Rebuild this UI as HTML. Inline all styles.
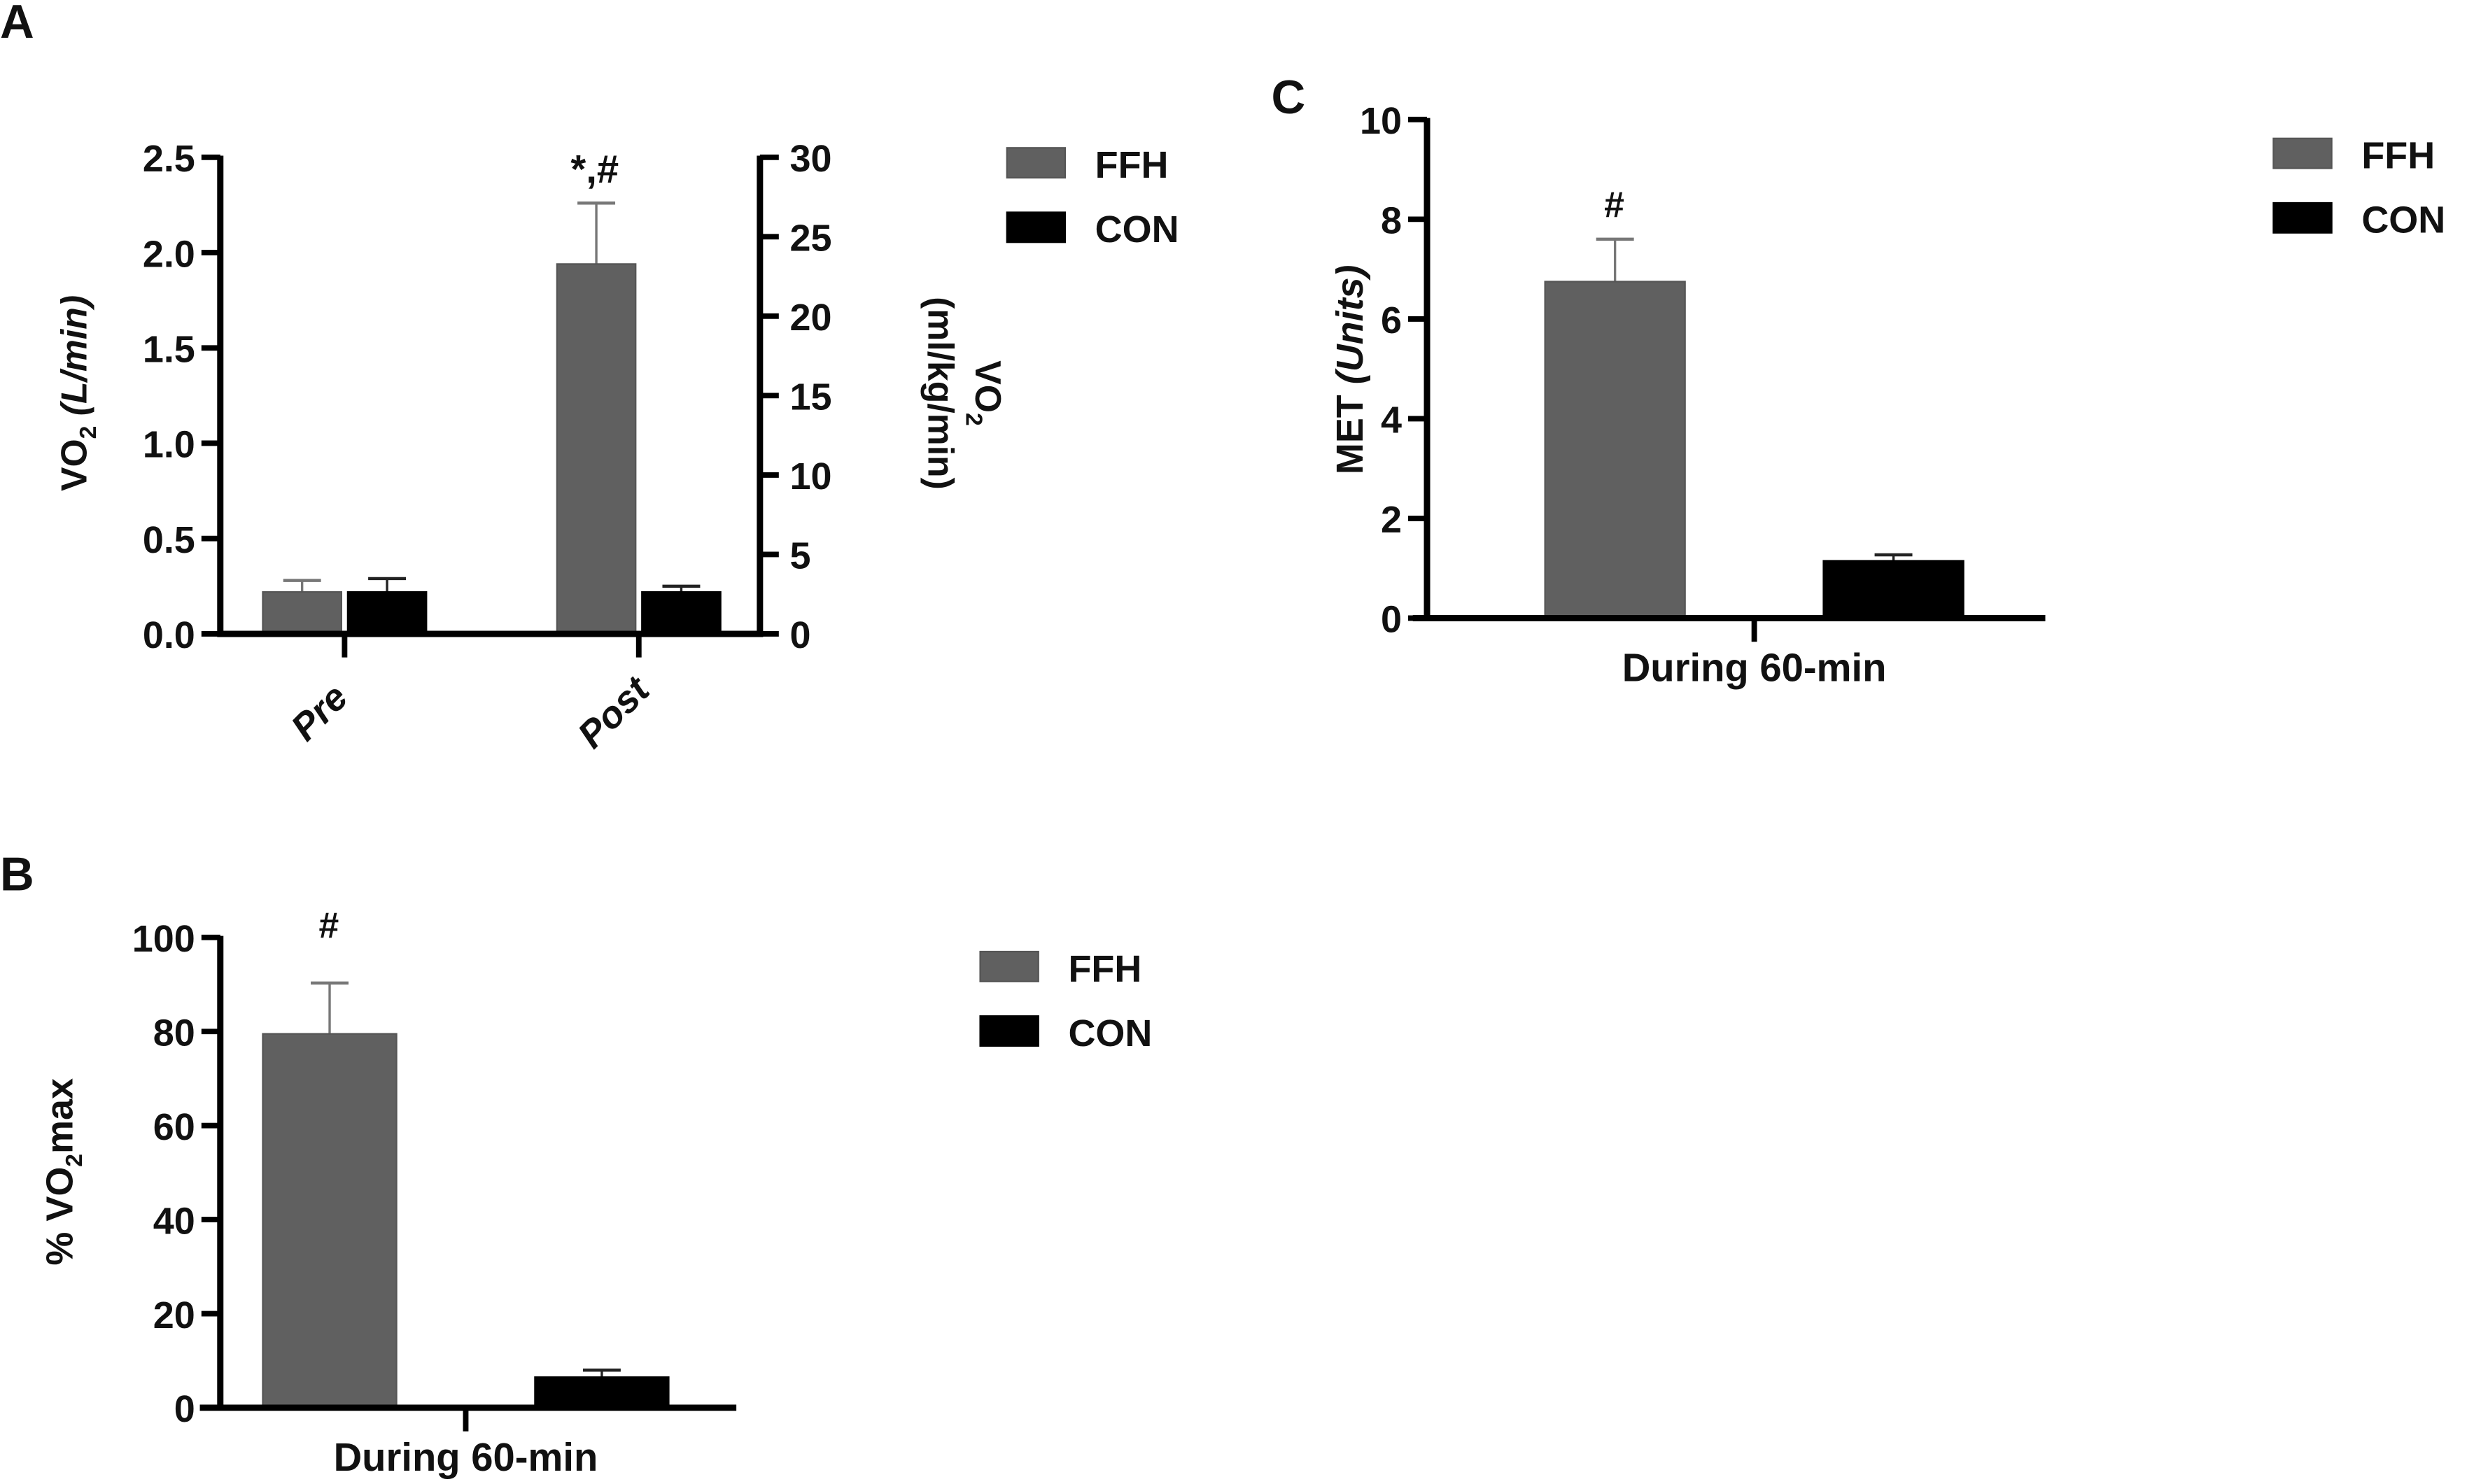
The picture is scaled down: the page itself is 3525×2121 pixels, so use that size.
<!DOCTYPE html>
<html><head><meta charset="utf-8"><style>
html,body{margin:0;padding:0;background:#fff;}
svg{display:block;}
text{font-family:"Liberation Sans",sans-serif;font-weight:bold;fill:#111;}
</style></head><body>
<svg id="fig" width="3525" height="2121" viewBox="0 0 1568 943.5" xmlns="http://www.w3.org/2000/svg">
<text x="0" y="24" font-size="30">A</text>
<text x="808" y="72" font-size="30">C</text>
<text x="0" y="566" font-size="30">B</text>
</svg>
<script>
// Panel A data
const aCategories = ["Pre","Post"];
const aFFH = [0.22, 1.94];
const aFFHerr = [0.28, 2.26];
const aCON = [0.22, 0.22];
const aCONerr = [0.29, 0.25];
const aLeftTicks = [0.0,0.5,1.0,1.5,2.0,2.5];
const aRightTicks = [0,5,10,15,20,25,30];
// Panel B data
const bCategories = ["During 60-min"];
const bFFH = [79.5]; const bFFHerr = [90.3];
const bCON = [6.5]; const bCONerr = [8.0];
const bTicks = [0,20,40,60,80,100];
// Panel C data
const cCategories = ["During 60-min"];
const cFFH = [6.75]; const cFFHerr = [7.6];
const cCON = [1.15]; const cCONerr = [1.27];
const cTicks = [0,2,4,6,8,10];

const svg = document.getElementById('fig');
const NS = "http://www.w3.org/2000/svg";
function mk(tag, attrs, parent){
  const e = document.createElementNS(NS, tag);
  for (const k in attrs) e.setAttribute(k, attrs[k]);
  (parent||svg).appendChild(e); return e;
}
function txt(x,y,s,size,anchor,extra){
  const t = mk('text',Object.assign({x:x,y:y,'font-size':size,'text-anchor':anchor||'start'},extra||{}));
  t.textContent = s; return t;
}

function panel(o){
  const sy = v => o.y0 - (v - o.min)/(o.max - o.min)*(o.y0 - o.y1);
  o.cats.forEach((c,i)=>{
    const cx = o.catX[i];
    [[o.ffh,o.ffhErr,'#606060','#777',-1],[o.con,o.conErr,'#000','#222',1]].forEach(([vals,errs,fill,ec,side],j)=>{
      const x = side<0 ? cx - o.gap - o.bw : cx + o.gap;
      const top = sy(vals[i]), et = sy(errs[i]);
      const el = mk('line',{x1:x+o.bw/2,x2:x+o.bw/2,y1:top,y2:et,stroke:ec,'stroke-width':1.5});
      
      
      const cap = mk('line',{x1:x+o.bw/2-12,x2:x+o.bw/2+12,y1:et,y2:et,stroke:ec,'stroke-width':2});
      
      
      const r = mk('rect',{x:x,y:top,width:o.bw,height:o.y0-top,fill:fill,stroke:j===0?'#555':'#000','stroke-width':1});
      
      
    });
    const tk = mk('line',{x1:cx,x2:cx,y1:o.y0,y2:o.y0+15,stroke:'#000','stroke-width':3.5});
    
    
    let lab;
    if (o.rot) lab = txt(cx-16,o.y0+58,c,24,'middle',{'font-style':'italic',transform:`rotate(-45 ${cx-16} ${o.y0+50})`});
    else lab = txt(cx,o.y0+40,c,25,'middle');
    
    
  });
  const ya = mk('line',{x1:o.ax,x2:o.ax,y1:o.y1-1,y2:o.y0+2,stroke:'#000','stroke-width':4});
  
  
  const xa = mk('line',{x1:o.xs,x2:o.xe,y1:o.y0,y2:o.y0,stroke:'#000','stroke-width':4});
  
  
  o.ticks.forEach(v=>{
    const y = sy(v);
    const l = mk('line',{x1:o.ax-12,x2:o.ax,y1:y,y2:y,stroke:'#000','stroke-width':3.5});
    
    
    const t = txt(o.ax-16,y+9,o.fmt(v),24,'end');
    
    
  });
  [['FFH','#606060'],['CON','#000']].forEach(([n,f],i)=>{
    const r = mk('rect',{x:o.lx,y:o.ly+i*41,width:37,height:19,fill:f,stroke:i?'#000':'#555'});
    
    
    const t = txt(o.lx+56,o.ly+i*41+19,n,24,'start',{'font-weight':'normal'});
    
    
  });
  return sy;
}

// Panel A
panel({cats:aCategories,catX:[219,406],ffh:aFFH,ffhErr:aFFHerr,con:aCON,conErr:aCONerr,
  min:0,max:2.5,y0:403,y1:100,ax:140,xs:140,xe:485,bw:50,gap:2,ticks:aLeftTicks,fmt:v=>v.toFixed(1),
  rot:true,lx:640,ly:94});
const ra = mk('line',{x1:483,x2:483,y1:99,y2:405,stroke:'#000','stroke-width':4});


aRightTicks.forEach(v=>{
  const y = 403 - v/30*303;
  const l = mk('line',{x1:483,x2:495,y1:y,y2:y,stroke:'#000','stroke-width':3.5});
  
  
  const t = txt(502,y+9,String(v),24,'start');
  
  
});
let t;
t = txt(378,116,'*,#',25,'middle');  
t = mk('text',{x:0,y:0,'font-size':23,'text-anchor':'middle',transform:'translate(55 250) rotate(-90)'});
t.innerHTML = 'VO<tspan font-size="15" dy="6">2</tspan><tspan dy="-6" font-style="italic"> (L/min)</tspan>';
 
t = mk('text',{x:0,y:0,'font-size':23,'text-anchor':'middle','font-weight':'normal',transform:'translate(620 250) rotate(90)'});
t.innerHTML = 'VO<tspan font-size="15" dy="6">2</tspan>';
 
t = mk('text',{x:0,y:0,'font-size':23,'text-anchor':'middle','font-weight':'normal',transform:'translate(590 250) rotate(90)'});
t.textContent='(ml/kg/min)';
 

// Panel C
panel({cats:cCategories,catX:[1115],ffh:cFFH,ffhErr:cFFHerr,con:cCON,conErr:cCONerr,
  min:0,max:10,y0:393,y1:76,ax:907,xs:898,xe:1300,bw:89,gap:44,ticks:cTicks,fmt:v=>String(v),
  rot:false,lx:1445,ly:88});
t = txt(1026,138,'#',23,'middle',{'font-weight':'normal'});  
t = mk('text',{x:0,y:0,'font-size':24,'text-anchor':'middle',transform:'translate(866 235) rotate(-90)'});
t.innerHTML = 'MET <tspan font-style="italic">(Units)</tspan>';
 

// Panel B
panel({cats:bCategories,catX:[296],ffh:bFFH,ffhErr:bFFHerr,con:bCON,conErr:bCONerr,
  min:0,max:100,y0:895,y1:596,ax:140,xs:127,xe:468,bw:85,gap:44,ticks:bTicks,fmt:v=>String(v),
  rot:false,lx:623,ly:605});
t = txt(209,596,'#',23,'middle',{'font-weight':'normal'});  
t = mk('text',{x:0,y:0,'font-size':24,'text-anchor':'middle',transform:'translate(46 745) rotate(-90)'});
t.innerHTML = '% VO<tspan font-size="15" dy="6">2</tspan><tspan dy="-6">max</tspan>';
 
</script>
</body></html>
